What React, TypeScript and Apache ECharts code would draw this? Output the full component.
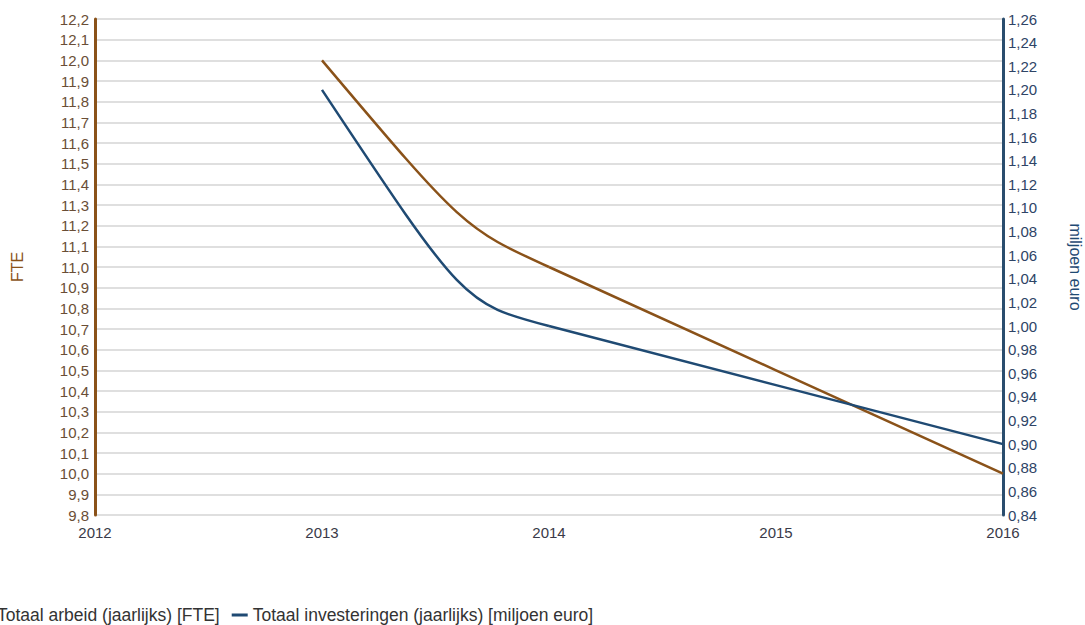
import React, { useEffect, useRef } from "react";
import * as echarts from "echarts";

const years = ["2012", "2013", "2014", "2015", "2016"];
const arbeidFTE: (number | null)[] = [null, 12.0, 11.0, 10.5, 10.0];
const investeringen: (number | null)[] = [null, 1.2, 1.0, 0.95, 0.9];
const seriesNames = ["Totaal arbeid (jaarlijks) [FTE]", "Totaal investeringen (jaarlijks) [miljoen euro]"];
const fteTicks = { min: 9.8, max: 12.2, step: 0.1 };
const euroTicks = { min: 0.84, max: 1.26, step: 0.02 };

const BROWN = "#8a5219";
const BLUE = "#1f4a73";
const FONT = "Liberation Sans, Arial, sans-serif";

function toData(values: (number | null)[]) {
  return values
    .map((v, i) => [i, v] as [number, number | null])
    .filter((d) => d[1] != null) as [number, number][];
}

function makeRenderer(data: [number, number][], color: string) {
  return (params: any, api: any) => {
    if (params.dataIndex !== 0) return null;
    const pts = data.map((d) => api.coord(d) as number[]);
    const children: any[] = [];
    const style = { stroke: color, lineWidth: 2.5, fill: "none", lineJoin: "round", lineCap: "butt" };
    if (pts.length >= 3) {
      const [x0, y0] = pts[0];
      const [x1, y1] = pts[1];
      const [x2, y2] = pts[2];
      const c0 = (y1 - y0) / (x1 - x0);
      const c1 = (y2 - y1) / (x2 - x1);
      const m0 = c0 + 0.6 * (c0 - c1);
      const m1 = c1;
      if (Math.abs(m0 - m1) > 1e-6) {
        const qx = (y1 - y0 + m0 * x0 - m1 * x1) / (m0 - m1);
        const qy = y0 + m0 * (qx - x0);
        children.push({
          type: "bezierCurve",
          shape: { x1: x0, y1: y0, x2: x1, y2: y1, cpx1: qx, cpy1: qy, cpx2: qx, cpy2: qy },
          style,
        });
      } else {
        children.push({ type: "line", shape: { x1: x0, y1: y0, x2: x1, y2: y1 }, style });
      }
      children.push({ type: "polyline", shape: { points: pts.slice(1) }, style });
    } else {
      children.push({ type: "polyline", shape: { points: pts }, style });
    }
    return { type: "group", children };
  };
}

export default function App() {
  const ref = useRef<HTMLDivElement>(null);
  useEffect(() => {
    const chart = echarts.init(ref.current!, undefined, { renderer: "svg" });
    const fteData = toData(arbeidFTE);
    const euroData = toData(investeringen);
    chart.setOption({
      animation: false,
      textStyle: { fontFamily: FONT },
      grid: { left: 95, right: 82, top: 19, bottom: 110, containLabel: false, outerBoundsMode: "none" },
      legend: {
        left: -29,
        top: 601,
        itemWidth: 16,
        itemHeight: 3,
        itemGap: 12,
        icon: "rect",
        textStyle: { fontSize: 17.5, color: "#333", fontFamily: FONT },
        data: seriesNames,
      },
      xAxis: {
        type: "category",
        data: years,
        boundaryGap: false,
        axisLine: { show: false },
        axisTick: { show: false },
        axisLabel: { color: "#3a3a48", fontSize: 15, margin: 10, fontFamily: FONT },
        splitLine: { show: false },
      },
      yAxis: [
        {
          type: "value",
          name: "FTE",
          nameLocation: "middle",
          nameRotate: 90,
          nameGap: 70,
          nameTextStyle: { color: BROWN, fontSize: 16, fontFamily: FONT },
          min: fteTicks.min,
          max: fteTicks.max,
          interval: fteTicks.step,
          axisLine: { show: true, lineStyle: { color: BROWN, width: 3 } },
          axisTick: { show: false },
          axisLabel: {
            color: "#6a4e36",
            fontSize: 15,
            margin: 6,
            fontFamily: FONT,
            formatter: (v: number) => v.toFixed(1).replace(".", ","),
          },
          splitLine: { show: true, lineStyle: { color: "#d4d4d4", width: 1.5 } },
        },
        {
          type: "value",
          name: "miljoen euro",
          nameLocation: "middle",
          nameRotate: -90,
          nameGap: 64,
          nameTextStyle: { color: BLUE, fontSize: 16, fontFamily: FONT },
          min: euroTicks.min,
          max: euroTicks.max,
          interval: euroTicks.step,
          position: "right",
          axisLine: { show: true, lineStyle: { color: "#2a4d6e", width: 3 } },
          axisTick: { show: false },
          axisLabel: {
            color: "#2e4466",
            fontSize: 15,
            margin: 5,
            fontFamily: FONT,
            formatter: (v: number) => v.toFixed(2).replace(".", ","),
          },
          splitLine: { show: false },
        },
      ],
      series: [
        {
          name: seriesNames[0],
          type: "custom",
          coordinateSystem: "cartesian2d",
          yAxisIndex: 0,
          encode: { x: 0, y: 1 },
          data: fteData,
          renderItem: makeRenderer(fteData, BROWN),
          itemStyle: { color: BROWN },
        },
        {
          name: seriesNames[1],
          type: "custom",
          coordinateSystem: "cartesian2d",
          yAxisIndex: 1,
          encode: { x: 0, y: 1 },
          data: euroData,
          renderItem: makeRenderer(euroData, BLUE),
          itemStyle: { color: BLUE },
        },
      ],
    });
    return () => chart.dispose();
  }, []);
  return (
    <div
      ref={ref}
      style={{ position: "absolute", left: 0, top: 0, width: 1085, height: 625, background: "#fff" }}
    />
  );
}
